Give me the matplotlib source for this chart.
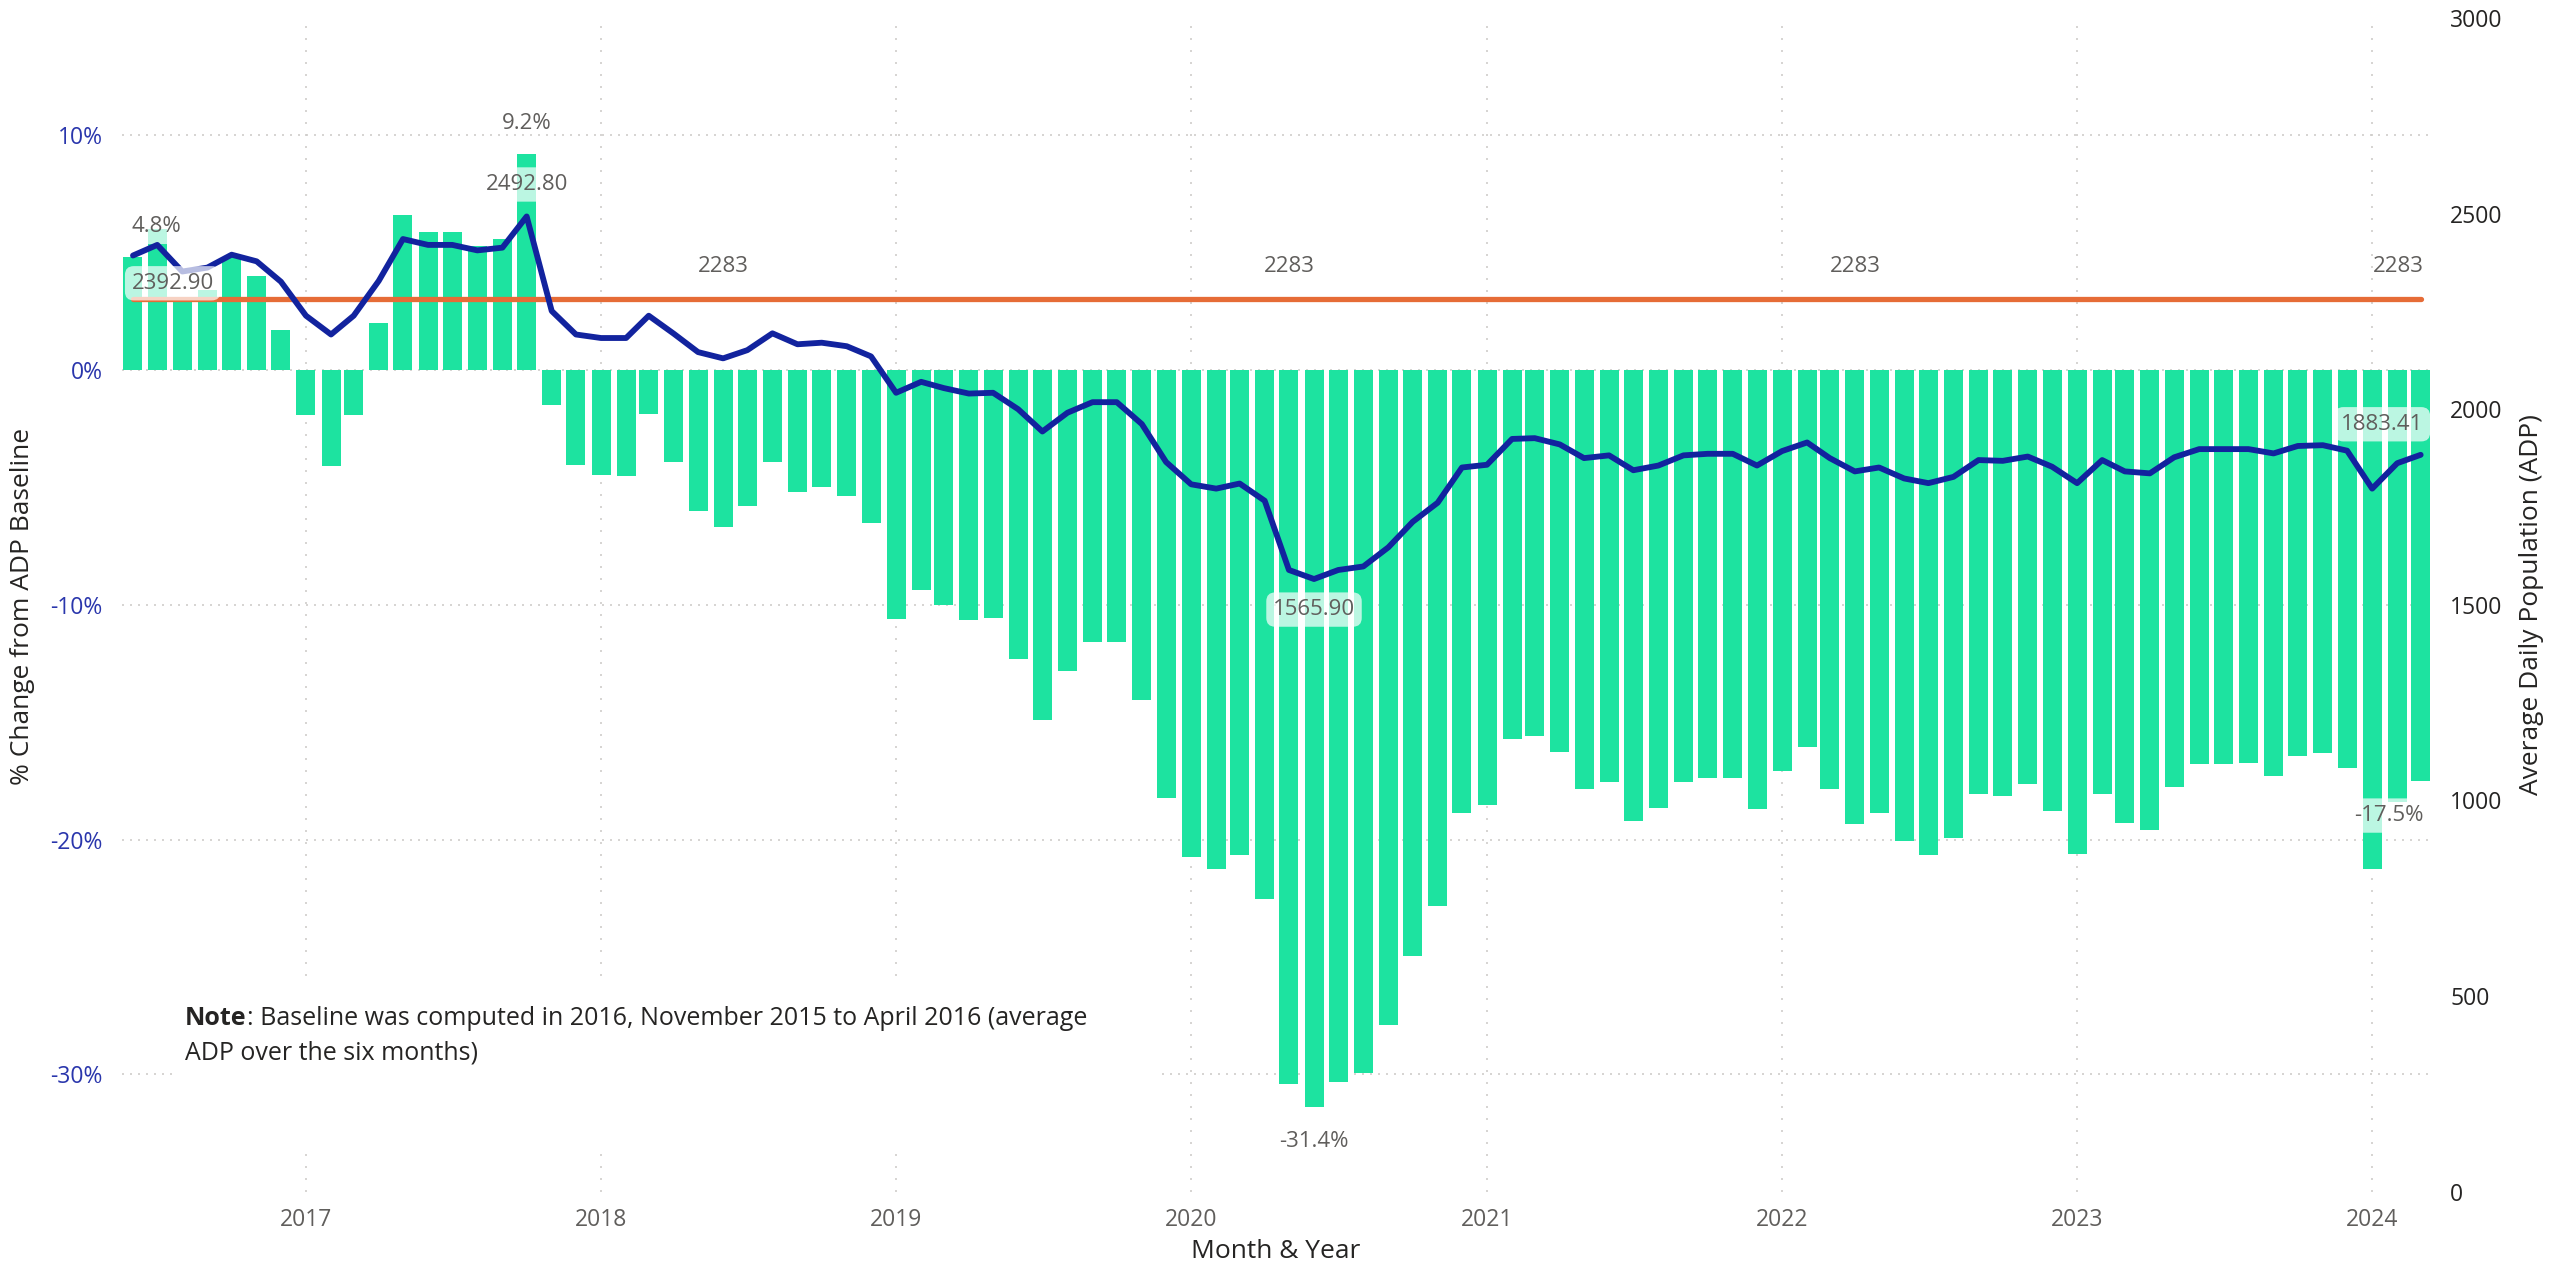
import matplotlib.pyplot as plt
import pandas as pd
from matplotlib.patches import Rectangle

plt.rcParams['font.family'] = ['Open Sans', 'DejaVu Sans']

# Monthly categories, June 2016 - March 2024
months = pd.date_range('2016-06-01', '2024-03-01', freq='MS')

# % change from ADP baseline (bars)
pct_change = [
    4.8, 6.0, 2.9, 3.4, 4.8, 4.0, 1.7,
    -1.9, -4.1, -1.9, 2.0, 6.6, 5.9, 5.9, 5.3, 5.6, 9.2, -1.5, -4.05,
    -4.45, -4.5, -1.85, -3.9, -6.0, -6.7, -5.8, -3.9, -5.2, -5.0, -5.35, -6.5,
    -10.6, -9.35, -10.0, -10.65, -10.55, -12.3, -14.9, -12.8, -11.6, -11.6, -14.05, -18.25,
    -20.75, -21.25, -20.65, -22.55, -30.4, -31.4, -30.35, -29.95, -27.9, -24.95, -22.85, -18.85,
    -18.55, -15.7, -15.6, -16.25, -17.85, -17.55, -19.2, -18.65, -17.55, -17.4, -17.4, -18.7,
    -17.1, -16.05, -17.85, -19.35, -18.85, -20.05, -20.65, -19.95, -18.05, -18.15, -17.65, -18.8,
    -20.6, -18.05, -19.3, -19.6, -17.75, -16.8, -16.8, -16.75, -17.3, -16.45, -16.3, -16.95,
    -21.25, -18.4, -17.5,
]

# Average daily population (line)
adp = [
    2392.9, 2420, 2352, 2362, 2395, 2378, 2326,
    2239, 2191, 2239, 2328, 2435, 2420, 2420, 2406, 2413, 2492.8, 2251, 2191,
    2182, 2182, 2239, 2193, 2146, 2130, 2151, 2194, 2166, 2170, 2161, 2135,
    2042, 2070, 2054, 2040, 2042, 2000, 1943, 1991, 2018, 2018, 1962, 1865,
    1808, 1797, 1810, 1766, 1589, 1565.9, 1589, 1598, 1647, 1712, 1761, 1851,
    1858, 1924, 1926, 1910, 1875, 1882, 1844, 1856, 1882, 1886, 1886, 1856,
    1893, 1915, 1875, 1841, 1851, 1823, 1811, 1827, 1870, 1868, 1879, 1853,
    1811, 1870, 1841, 1836, 1877, 1898, 1898, 1898, 1887, 1906, 1908, 1894,
    1797, 1862, 1883.41,
]

baseline = 2283
years = [2017, 2018, 2019, 2020, 2021, 2022, 2023, 2024]
pct_ticks = [-30, -20, -10, 0, 10]
adp_ticks = [0, 500, 1000, 1500, 2000, 2500, 3000]

GREEN = '#1DE3A0'
BLUE = '#12239E'
ORANGE = '#E66C37'
LABEL = '#605E5C'
DARK = '#252423'
GRID = '#CFCDCB'

fig = plt.figure(figsize=(25.7, 12.69), dpi=100)
ax = fig.add_axes([0.0475, 0.061, 0.8988, 0.9248])

ax.bar(months, pct_change, width=23.5, color=GREEN, zorder=2)
ax.set_ylim(-35, 15)
ax.set_xlim(months[0] - pd.Timedelta(days=13.5), months[-1] + pd.Timedelta(days=14))
ax.set_yticks(pct_ticks)
ax.set_yticklabels([f'{t}%' for t in pct_ticks])
ax.set_xticks([pd.Timestamp(f'{y}-01-01') for y in years])
ax.set_xticklabels([str(y) for y in years])
ax.tick_params(axis='y', length=0, pad=14, labelsize=16.5, labelcolor='#2A36AC')
ax.tick_params(axis='x', length=0, pad=12, labelsize=16.5, labelcolor=LABEL)
ax.set_axisbelow(True)
ax.yaxis.grid(True, color=GRID, linestyle=(0, (1.2, 3.6)), linewidth=1.2)
ax.xaxis.grid(True, color=GRID, linestyle=(0, (1.2, 6)), linewidth=1.2)
for s in ax.spines.values():
    s.set_visible(False)

ax2 = ax.twinx()
ax2.plot(months, [baseline] * len(months), color=ORANGE, lw=3.8, solid_capstyle='round', zorder=2)
ax2.plot(months, adp, color=BLUE, lw=4.2, solid_joinstyle='round', solid_capstyle='round', zorder=3)
ax2.set_ylim(0, 3000)
ax2.set_yticks(adp_ticks)
ax2.tick_params(axis='y', length=0, pad=13, labelsize=16.5, labelcolor=DARK)
for s in ax2.spines.values():
    s.set_visible(False)

box = dict(boxstyle='round,pad=0.3,rounding_size=0.4', fc='white', ec='none', alpha=0.7)
lab = dict(fontsize=16, color=LABEL, textcoords='offset points')

# bar labels: first, max, min, last
ax.annotate('4.8%', (months[0], pct_change[0]), xytext=(-1, 22), ha='left', va='center',
            bbox=box, zorder=4, **lab)
ax.annotate('9.2%', (months[16], pct_change[16]), xytext=(0, 22), ha='center', va='center', **lab)
ax.annotate('-31.4%', (months[48], pct_change[48]), xytext=(0, -24.5), ha='center', va='center', **lab)
ax.annotate('-17.5%', (months[93], pct_change[93]), xytext=(2, -25), ha='right', va='center',
            bbox=box, zorder=4, **lab)

# line labels
ax2.annotate('2392.90', (months[0], adp[0]), xytext=(-1, -20), ha='left', va='center',
             bbox=box, zorder=5, **lab)
ax2.annotate('2492.80', (months[16], adp[16]), xytext=(0, 23), ha='center', va='center',
             bbox=box, zorder=5, **lab)
ax2.annotate('1565.90', (months[48], adp[48]), xytext=(0, -22), ha='center', va='center',
             bbox=box, zorder=5, **lab)
ax2.annotate('1883.41', (months[93], adp[93]), xytext=(2, 22), ha='right', va='center',
             bbox=box, zorder=5, **lab)
for i in [24, 47, 70]:
    ax2.annotate(str(baseline), (months[i], baseline), xytext=(0, 23), ha='center', va='center', **lab)
ax2.annotate(str(baseline), (months[93], baseline), xytext=(2, 23), ha='right', va='center', **lab)

# note box
ax.add_patch(Rectangle((173 / 2570, 1 - 1154 / 1269), 984 / 2570, 173 / 1269,
                       transform=fig.transFigure, fc='white', ec='none', zorder=1, clip_on=False))
t1 = ax.text(185 / 2570, 1 - 1018.6 / 1269, 'Note', transform=fig.transFigure, fontsize=18,
             fontweight='bold', color=DARK, ha='left', va='center', zorder=3)
ax.annotate(': Baseline was computed in 2016, November 2015 to April 2016 (average',
            xy=(1, 0), xycoords=t1, ha='left', va='bottom', fontsize=18, color=DARK, zorder=3)
ax.text(185 / 2570, 1 - 1052.5 / 1269, 'ADP over the six months)', transform=fig.transFigure,
        fontsize=18, color=DARK, ha='left', va='center', zorder=3)

# axis titles
fig.text(23 / 2570, 1 - 606 / 1269, '% Change from ADP Baseline', rotation=90, ha='center',
         va='center', fontsize=19, color=DARK)
fig.text(2532 / 2570, 1 - 605 / 1269, 'Average Daily Population (ADP)', rotation=90,
         ha='center', va='center', fontsize=19, color=DARK)
fig.text(1276 / 2570, 1 - 1251 / 1269, 'Month & Year', ha='center', va='center',
         fontsize=19, color=DARK)

fig.savefig('out.png', dpi=100, facecolor='white')
